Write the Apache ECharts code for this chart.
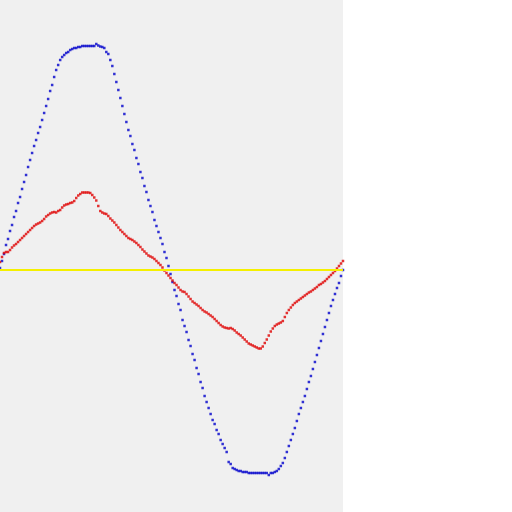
<!DOCTYPE html>
<html>
<head>
<meta charset="utf-8">
<script src="https://cdn.jsdelivr.net/npm/echarts@6/dist/echarts.min.js"></script>
<style>
  html, body { margin: 0; padding: 0; background: #ffffff; }
  #chart { width: 512px; height: 512px; }
</style>
</head>
<body>
<div id="chart"></div>
<script>
// samples every 2px across the plot, values measured from the zero (yellow) line
var blueWave = [
  2, 9, 16, 25, 31, 39, 45, 53, 59, 67,
  73, 81, 88, 95, 103, 110, 117, 124, 130, 137,
  143, 150, 157, 164, 171, 179, 185, 193, 200, 205,
  210, 213, 215, 217, 218, 220, 221, 222, 222, 223,
  223, 224, 224, 224, 224, 224, 224, 224, 226, 224.5,
  223.5, 223, 222, 218, 216, 210, 204, 196, 188, 180,
  172, 164, 156, 148, 140, 134, 126, 120, 112, 106,
  98, 92, 84, 78, 70, 64, 58, 50, 44, 38,
  32, 26, 18, 12, 4, -4, -12, -20, -26, -34,
  -40, -50, -56, -62, -70, -76, -84, -90, -98, -104,
  -112, -118, -126, -132, -138, -144, -150, -154, -160, -164,
  -170, -174, -178, -182, -192, -194, -198, -199, -200, -201,
  -201, -202, -202, -202, -203, -203, -203, -203, -203, -203,
  -203, -203, -203, -203, -205, -203, -203, -202, -201, -199,
  -196, -193, -188, -182, -176, -170, -164, -158, -151, -144,
  -138, -132, -126, -119, -112, -106, -99, -92, -85, -78,
  -71, -64, -57, -50, -43, -36, -30, -24, -18, -13,
  -6, 0
]
var redWave = [
  8, 13, 17, 18, 18, 20, 22.5, 24.5, 26, 28,
  30, 32, 34, 36, 38, 40, 42, 44, 45.5, 46.5,
  47.5, 49, 51, 53.5, 55, 56.5, 57.5, 58, 57.5, 59,
  60, 62.5, 64.5, 65.5, 66, 67, 67.5, 69, 72, 74.5,
  76, 77.5, 77.5, 77.5, 77.5, 77, 75, 72.5, 69.5, 64,
  59, 57.5, 56.5, 56, 54, 51.5, 49.5, 47.5, 45, 42.5,
  40, 38, 36, 34, 32, 31, 30, 28.5, 27, 25,
  23, 20.5, 18.5, 16.5, 14.5, 13.5, 12.5, 11, 9, 7,
  5, 2.5, -0.5, -3, -5.5, -8, -10.5, -13, -15, -17.5,
  -20, -21.5, -22, -24, -26.5, -29, -31.5, -33, -34.5, -36,
  -38, -40, -41.5, -42.5, -44, -45.5, -47, -49, -51, -53,
  -55, -56.5, -57.5, -58, -58.5, -58, -59, -60.5, -62.5, -64,
  -65.5, -67.5, -69.5, -71.5, -73.5, -74.5, -75.5, -76.5, -77.5, -78.5,
  -78.5, -76.5, -73, -69.5, -65.5, -61.5, -58.5, -56, -54.5, -53.5,
  -52.5, -51, -47, -43, -40, -37.5, -35, -33, -31.5, -30,
  -28.5, -27, -25.5, -24, -22.5, -21.5, -20, -18.5, -17, -15,
  -14, -12.5, -11, -9, -7, -5, -3, -1, 1.5, 4,
  6.5, 9
]
var zeroLevel = 0
var yMin = -242, yMax = 270

var samples = []
for (var i = 0; i < blueWave.length; i++) samples.push(String(i))

var chart = echarts.init(document.getElementById('chart'))
var option = {
    animation: false,
    grid: {
        left: 0, top: 0, width: 343, height: 512,
        show: true,
        backgroundColor: '#f0f0f0',
        borderWidth: 0
    },
    xAxis: {
        type: 'category',
        data: samples,
        boundaryGap: false,
        show: false
    },
    yAxis: {
        type: 'value',
        min: yMin, max: yMax,
        show: false
    },
    series: [
        {
            type: 'line',
            data: [],
            silent: true,
            markLine: {
                symbol: 'none',
                silent: true,
                label: { show: false },
                lineStyle: { color: '#f5f000', width: 2, type: 'solid' },
                data: [{ yAxis: zeroLevel }]
            }
        },
        {
            name: 'blue',
            type: 'scatter',
            symbol: 'rect',
            symbolSize: 2.5,
            itemStyle: { color: '#0000cc' },
            data: blueWave
        },
        {
            name: 'red',
            type: 'scatter',
            symbol: 'rect',
            symbolSize: 2.5,
            itemStyle: { color: '#e00000' },
            data: redWave
        }
    ]
}
chart.setOption(option)
</script>
</body>
</html>
